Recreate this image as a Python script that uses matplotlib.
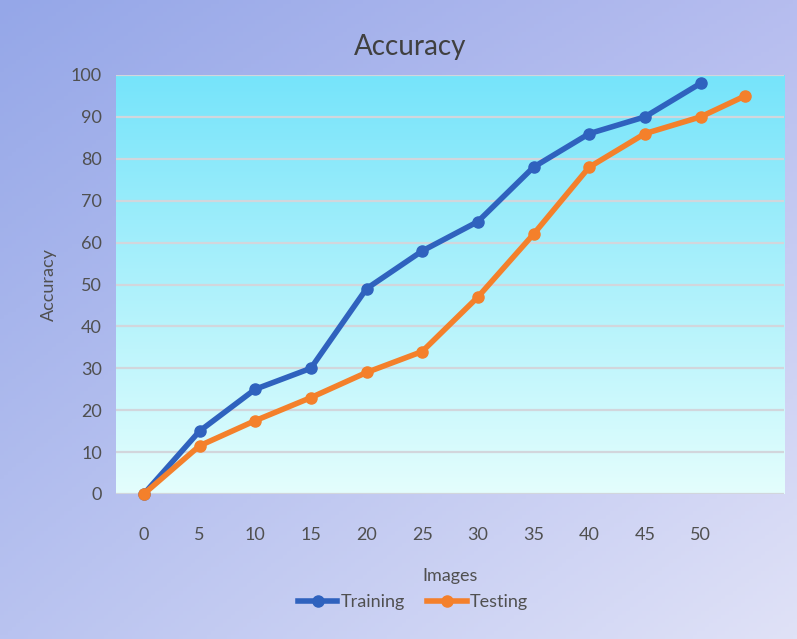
import matplotlib
matplotlib.use("Agg")
import matplotlib.pyplot as plt
import numpy as np
from matplotlib.colors import to_rgb

plt.rcParams["font.family"] = ["Lato", "DejaVu Sans"]

# accuracy per number of images
train_x = [0, 5, 10, 15, 20, 25, 30, 35, 40, 45, 50]
train_acc = [0, 15, 25, 30, 49, 58, 65, 78, 86, 90, 98]
test_x = [0, 5, 10, 15, 20, 25, 30, 35, 40, 45, 50, 54]
test_acc = [0, 11.5, 17.5, 23, 29, 34, 47, 62, 78, 86, 90, 95]
x_ticks = [0, 5, 10, 15, 20, 25, 30, 35, 40, 45, 50]
y_ticks = list(range(0, 101, 10))

W, H, DPI = 797, 639, 100
fig = plt.figure(figsize=(W / DPI, H / DPI), dpi=DPI)

# diagonal background gradient over the whole figure
bg = fig.add_axes([0, 0, 1, 1], zorder=-10)
tl, tr = np.array(to_rgb("#95a7e8")), np.array(to_rgb("#b6bdef"))
bl, br = np.array(to_rgb("#b9c3f0")), np.array(to_rgb("#e0e2f7"))
u = np.linspace(0, 1, 200)[None, :, None]
v = np.linspace(0, 1, 160)[:, None, None]
grad = (1 - v) * ((1 - u) * tl + u * tr) + v * ((1 - u) * bl + u * br)
bg.imshow(grad, aspect="auto", extent=[0, 1, 0, 1], origin="upper")
bg.axis("off")

left, right = 116 / W, 784 / W
bottom, top = 1 - 494 / H, 1 - 75 / H
ax = fig.add_axes([left, bottom, right - left, top - bottom])
ax.set_xlim(-2.5, 57.5)
ax.set_ylim(0, 100)

# plot area: cyan fading to near white
pa = np.linspace(0, 1, 256)[:, None, None]
c0, c1 = np.array(to_rgb("#76e4fa")), np.array(to_rgb("#e4fefd"))
ax.imshow(c0 * (1 - pa) + c1 * pa, aspect="auto",
          extent=[-2.5, 57.5, 0, 100], origin="upper", zorder=0)

for y in y_ticks:
    ax.axhline(y, color="#d2d6dc", lw=1.6, zorder=1)

ax.plot(train_x, train_acc, color="#2f62be", lw=4, marker="o", ms=8,
        label="Training", zorder=3, clip_on=False)
ax.plot(test_x, test_acc, color="#f4802b", lw=4, marker="o", ms=8,
        label="Testing", zorder=4, clip_on=False)

ax.set_xticks(x_ticks)
ax.set_yticks(y_ticks)
ax.tick_params(length=0, labelsize=13, labelcolor="#505050", pad=10)
ax.tick_params(axis="x", pad=24)
for s in ax.spines.values():
    s.set_visible(False)

fig.text(410 / W, 1 - 47 / H, "Accuracy", ha="center", va="center",
         fontsize=20, color="#404040")
fig.text(49 / W, 1 - 285 / H, "Accuracy", ha="center", va="center",
         rotation=90, fontsize=13, color="#505050")
fig.text(450 / W, 1 - 576 / H, "Images", ha="center", va="center",
         fontsize=13, color="#505050")

fig.legend(loc="center", bbox_to_anchor=(413 / W, 1 - 602 / H), ncol=2,
           frameon=False, fontsize=13, labelcolor="#505050",
           handlelength=2.2, columnspacing=1.2, handletextpad=0.2)

fig.savefig("out.png", dpi=DPI)
